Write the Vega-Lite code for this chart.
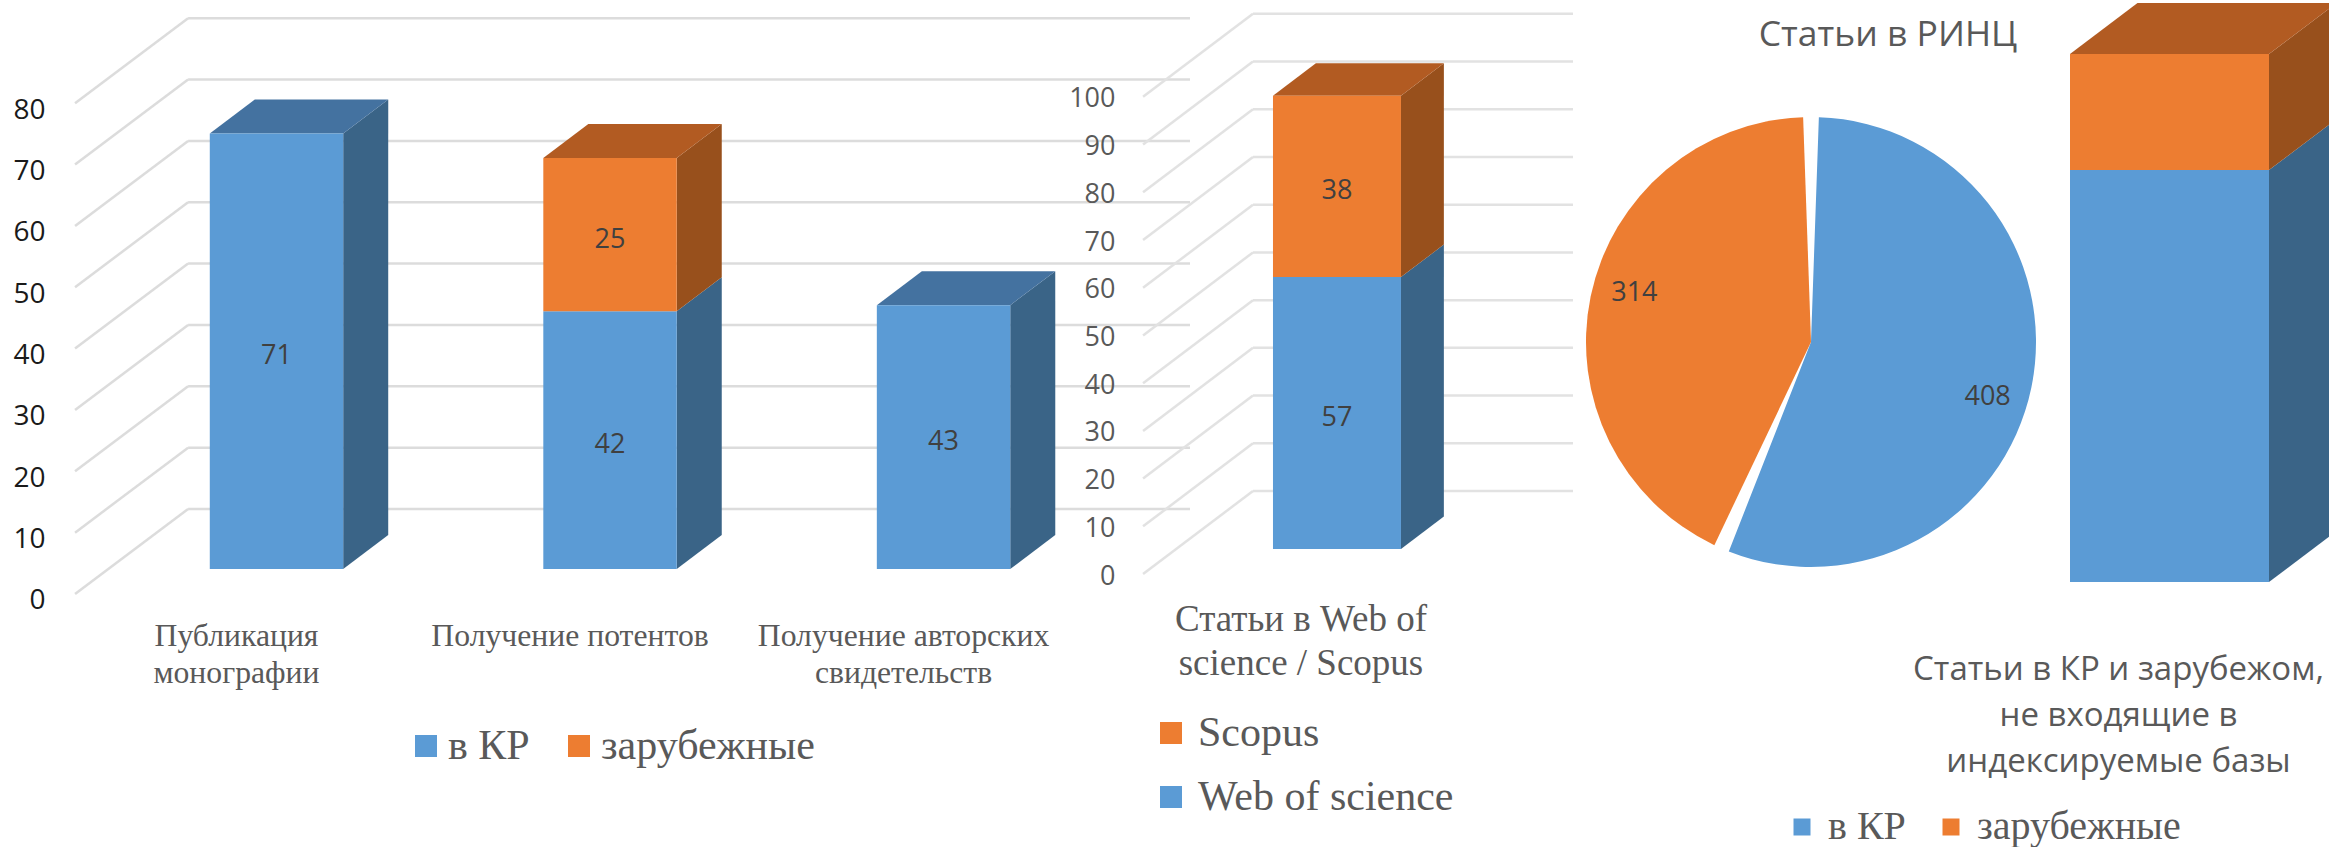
{"$schema":"https://vega.github.io/schema/vega-lite/v6.json","width":2329,"height":847,"autosize":{"type":"none"},"padding":0,"background":"white","config":{"view":{"stroke":null},"text":{"font":"Open Sans"}},
"datasets":{
"p1":[{"category":"Публикация\nмонографии","order":0,"series":"в КР","value":71},{"category":"Получение потентов","order":1,"series":"в КР","value":42},{"category":"Получение потентов","order":1,"series":"зарубежные","value":25},{"category":"Получение авторских\nсвидетельств","order":2,"series":"в КР","value":43}],
"p2":[{"category":"Статьи в Web of\nscience / Scopus","order":0,"series":"Web of science","value":57},{"category":"Статьи в Web of\nscience / Scopus","order":0,"series":"Scopus","value":38}],
"p3":[{"category":"Статьи в КР  и зарубежом,\nне входящие в\nиндексируемые базы","order":0,"series":"в КР","value":103},{"category":"Статьи в КР  и зарубежом,\nне входящие в\nиндексируемые базы","order":0,"series":"зарубежные","value":29}],
"pie":[{"series":"в КР","value":408},{"series":"зарубежные","value":314}],
"t1":[{"tick":0},{"tick":10},{"tick":20},{"tick":30},{"tick":40},{"tick":50},{"tick":60},{"tick":70},{"tick":80}],
"t2":[{"tick":0},{"tick":10},{"tick":20},{"tick":30},{"tick":40},{"tick":50},{"tick":60},{"tick":70},{"tick":80},{"tick":90},{"tick":100}]
},
"resolve":{"scale":{"x":"independent","y":"independent","color":"independent"},"axis":{"x":"independent","y":"independent"},"legend":{"color":"independent"}},
"layer":[
{"data":{"name":"p1"},"resolve":{"axis":{"y":"independent","x":"independent"}},"transform":[{"stack":"value","groupby":["category"],"sort":[{"field":"series","order":"ascending"}],"as":["start","end"]},{"calculate":"datum.start+4.07","as":"yb0"},{"calculate":"datum.end+4.07","as":"yb1"},{"calculate":"(datum.yb0+datum.yb1)/2","as":"ymid"},{"calculate":"datum.order-0.2","as":"x0"},{"calculate":"datum.order+0.2","as":"x1"},{"joinaggregate":[{"op":"max","field":"end","as":"maxEnd"}],"groupby":["category"]}],
"layer":[
{"data":{"name":"t1"},"transform":[{"calculate":"datum.tick+13.85","as":"back"}],"mark":{"type":"rule","stroke":"#dcdcdc","strokeWidth":2.5},"encoding":{"x":{"datum":-0.604,"type":"quantitative","axis":null,"scale":{"domain":[-0.829,6.154],"nice":false,"zero":false}},"x2":{"datum":-0.265},"y":{"field":"tick","type":"quantitative","scale":{"domain":[-41.24,96.82],"nice":false,"zero":false},"axis":{"orient":"left","offset":-52,"values":[0,10,20,30,40,50,60,70,80],"domain":false,"ticks":false,"grid":false,"title":null,"labelPadding":7,"labelFontSize":28,"labelFont":"Open Sans","labelColor":"#1a1a1a","labelOffset":7,"zindex":1}},"y2":{"field":"back"}}},
{"data":{"name":"t1"},"transform":[{"calculate":"datum.tick+13.85","as":"back"}],"mark":{"type":"rule","stroke":"#dcdcdc","strokeWidth":2.5},"encoding":{"x":{"datum":-0.265,"type":"quantitative","axis":null,"scale":{"domain":[-0.829,6.154],"nice":false,"zero":false}},"x2":{"datum":2.739},"y":{"field":"back","type":"quantitative","axis":null,"scale":{"domain":[-41.24,96.82],"nice":false,"zero":false}}}},
{"transform":[{"calculate":"[0,1]","as":"d"},{"flatten":["d"]},{"calculate":"datum.x1+datum.d*0.135","as":"sx"},{"calculate":"datum.yb0+datum.d*5.54","as":"lo"},{"calculate":"datum.yb1+datum.d*5.54","as":"hi"}],"mark":{"type":"area","orient":"vertical"},"encoding":{"x":{"field":"sx","type":"quantitative","axis":null,"scale":{"domain":[-0.829,6.154],"nice":false,"zero":false}},"y":{"field":"lo","type":"quantitative","axis":null,"scale":{"domain":[-41.24,96.82],"nice":false,"zero":false}},"y2":{"field":"hi"},"detail":[{"field":"order"},{"field":"series"}],"color":{"condition":{"test":"datum.series==='зарубежные'","value":"#98501c"},"value":"#3a6487"}}},
{"transform":[{"filter":"datum.end===datum.maxEnd"},{"calculate":"[0,1]","as":"d"},{"flatten":["d"]},{"calculate":"datum.x0+datum.d*0.135","as":"tx0"},{"calculate":"datum.x1+datum.d*0.135","as":"tx1"},{"calculate":"datum.yb1+datum.d*5.54","as":"ty"}],"mark":{"type":"area","orient":"horizontal"},"encoding":{"y":{"field":"ty","type":"quantitative","axis":null,"scale":{"domain":[-41.24,96.82],"nice":false,"zero":false}},"x":{"field":"tx0","type":"quantitative","axis":null,"scale":{"domain":[-0.829,6.154],"nice":false,"zero":false}},"x2":{"field":"tx1"},"detail":[{"field":"order"}],"color":{"condition":{"test":"datum.series==='зарубежные'","value":"#b25b22"},"value":"#4472a0"}}},
{"mark":{"type":"rect"},"encoding":{"x":{"field":"x0","type":"quantitative","axis":null,"scale":{"domain":[-0.829,6.154],"nice":false,"zero":false}},"x2":{"field":"x1"},"y":{"field":"yb0","type":"quantitative","axis":null,"scale":{"domain":[-41.24,96.82],"nice":false,"zero":false}},"y2":{"field":"yb1"},"color":{"field":"series","type":"nominal","scale":{"domain":["в КР","зарубежные"],"range":["#5b9bd5","#ed7d31"]},"legend":{"orient":"none","legendX":405,"legendY":725,"direction":"horizontal","columns":2,"title":null,"padding":0,"symbolType":"square","symbolSize":484,"symbolStrokeWidth":0,"labelFont":"Liberation Serif","labelFontSize":42,"labelLimit":500,"labelColor":"#595959","columnPadding":28,"labelOffset":1}}}},
{"mark":{"type":"text","fontSize":27,"font":"Open Sans","color":"#404040","dy":5},"encoding":{"x":{"field":"order","type":"quantitative","axis":null,"scale":{"domain":[-0.829,6.154],"nice":false,"zero":false}},"y":{"field":"ymid","type":"quantitative","axis":null,"scale":{"domain":[-41.24,96.82],"nice":false,"zero":false}},"text":{"field":"value"}}},
{"transform":[{"filter":"datum.series==='в КР'"}],"mark":{"type":"text","fontSize":31.7,"font":"Liberation Serif","color":"#595959","baseline":"top","lineBreak":"\n","lineHeight":37,"dx":-40},"encoding":{"x":{"field":"order","type":"quantitative","axis":null,"scale":{"domain":[-0.829,6.154],"nice":false,"zero":false}},"y":{"datum":-4.4,"type":"quantitative","axis":null,"scale":{"domain":[-41.24,96.82],"nice":false,"zero":false}},"text":{"field":"category"}}}
]},
{"data":{"name":"p2"},"resolve":{"axis":{"y":"independent","x":"independent"}},"transform":[{"stack":"value","groupby":["category"],"sort":[{"field":"series","order":"descending"}],"as":["start","end"]},{"calculate":"datum.start+5.24","as":"yb0"},{"calculate":"datum.end+5.24","as":"yb1"},{"calculate":"(datum.yb0+datum.yb1)/2","as":"ymid"},{"calculate":"datum.order-0.2","as":"x0"},{"calculate":"datum.order+0.2","as":"x1"},{"joinaggregate":[{"op":"max","field":"end","as":"maxEnd"}],"groupby":["category"]}],
"layer":[
{"data":{"name":"t2"},"transform":[{"calculate":"datum.tick+17.4","as":"back"}],"mark":{"type":"rule","stroke":"#e2e2e2","strokeWidth":2.5},"encoding":{"x":{"datum":-0.606,"type":"quantitative","axis":null,"scale":{"domain":[-4.178,3.1],"nice":false,"zero":false}},"x2":{"datum":-0.2625},"y":{"field":"tick","type":"quantitative","scale":{"domain":[-57.2,120.3],"nice":false,"zero":false},"axis":{"orient":"left","offset":-1122,"values":[0,10,20,30,40,50,60,70,80,90,100],"domain":false,"ticks":false,"grid":false,"title":null,"labelPadding":7,"labelFontSize":27,"labelFont":"Open Sans","labelColor":"#595959","labelOffset":2,"zindex":1}},"y2":{"field":"back"}}},
{"data":{"name":"t2"},"transform":[{"calculate":"datum.tick+17.4","as":"back"}],"mark":{"type":"rule","stroke":"#e2e2e2","strokeWidth":2.5},"encoding":{"x":{"datum":-0.2625,"type":"quantitative","axis":null,"scale":{"domain":[-4.178,3.1],"nice":false,"zero":false}},"x2":{"datum":0.7375},"y":{"field":"back","type":"quantitative","axis":null,"scale":{"domain":[-57.2,120.3],"nice":false,"zero":false}}}},
{"transform":[{"calculate":"[0,1]","as":"d"},{"flatten":["d"]},{"calculate":"datum.x1+datum.d*0.134","as":"sx"},{"calculate":"datum.yb0+datum.d*6.8","as":"lo"},{"calculate":"datum.yb1+datum.d*6.8","as":"hi"}],"mark":{"type":"area","orient":"vertical"},"encoding":{"x":{"field":"sx","type":"quantitative","axis":null,"scale":{"domain":[-4.178,3.1],"nice":false,"zero":false}},"y":{"field":"lo","type":"quantitative","axis":null,"scale":{"domain":[-57.2,120.3],"nice":false,"zero":false}},"y2":{"field":"hi"},"detail":[{"field":"series"}],"color":{"condition":{"test":"datum.series==='Scopus'","value":"#98501c"},"value":"#3a6487"}}},
{"transform":[{"filter":"datum.end===datum.maxEnd"},{"calculate":"[0,1]","as":"d"},{"flatten":["d"]},{"calculate":"datum.x0+datum.d*0.134","as":"tx0"},{"calculate":"datum.x1+datum.d*0.134","as":"tx1"},{"calculate":"datum.yb1+datum.d*6.8","as":"ty"}],"mark":{"type":"area","orient":"horizontal"},"encoding":{"y":{"field":"ty","type":"quantitative","axis":null,"scale":{"domain":[-57.2,120.3],"nice":false,"zero":false}},"x":{"field":"tx0","type":"quantitative","axis":null,"scale":{"domain":[-4.178,3.1],"nice":false,"zero":false}},"x2":{"field":"tx1"},"color":{"value":"#b25b22"}}},
{"mark":{"type":"rect"},"encoding":{"x":{"field":"x0","type":"quantitative","axis":null,"scale":{"domain":[-4.178,3.1],"nice":false,"zero":false}},"x2":{"field":"x1"},"y":{"field":"yb0","type":"quantitative","axis":null,"scale":{"domain":[-57.2,120.3],"nice":false,"zero":false}},"y2":{"field":"yb1"},"color":{"field":"series","type":"nominal","scale":{"domain":["Scopus","Web of science"],"range":["#ed7d31","#5b9bd5"]},"legend":{"orient":"none","legendX":1150,"legendY":712,"direction":"vertical","title":null,"padding":0,"symbolType":"square","symbolSize":484,"symbolStrokeWidth":0,"labelFont":"Liberation Serif","labelFontSize":42,"labelLimit":500,"labelColor":"#595959","rowPadding":22,"labelOffset":6}}}},
{"mark":{"type":"text","fontSize":27,"font":"Open Sans","color":"#404040","dy":5},"encoding":{"x":{"field":"order","type":"quantitative","axis":null,"scale":{"domain":[-4.178,3.1],"nice":false,"zero":false}},"y":{"field":"ymid","type":"quantitative","axis":null,"scale":{"domain":[-57.2,120.3],"nice":false,"zero":false}},"text":{"field":"value"}}},
{"transform":[{"filter":"datum.series==='Scopus'"}],"mark":{"type":"text","fontSize":37,"font":"Liberation Serif","color":"#595959","baseline":"top","lineBreak":"\n","lineHeight":44,"dx":-36},"encoding":{"x":{"field":"order","type":"quantitative","axis":null,"scale":{"domain":[-4.178,3.1],"nice":false,"zero":false}},"y":{"datum":-5.8,"type":"quantitative","axis":null,"scale":{"domain":[-57.2,120.3],"nice":false,"zero":false}},"text":{"field":"category"}}}
]},
{"data":{"name":"p3"},"transform":[{"stack":"value","groupby":["category"],"sort":[{"field":"series","order":"ascending"}],"as":["start","end"]},{"calculate":"datum.order-0.199","as":"x0"},{"calculate":"datum.order+0.199","as":"x1"},{"joinaggregate":[{"op":"max","field":"end","as":"maxEnd"}],"groupby":["category"]}],
"resolve":{"scale":{"theta":"independent"}},
"layer":[
{"transform":[{"calculate":"[0,1]","as":"d"},{"flatten":["d"]},{"calculate":"datum.x1+datum.d*0.135","as":"sx"},{"calculate":"datum.start+datum.d*12.75","as":"lo"},{"calculate":"datum.end+datum.d*12.75","as":"hi"}],"mark":{"type":"area","orient":"vertical"},"encoding":{"x":{"field":"sx","type":"quantitative","axis":null,"scale":{"domain":[-4.339,0.319],"nice":false,"zero":false}},"y":{"field":"lo","type":"quantitative","axis":null,"scale":{"domain":[-66.25,145.5],"nice":false,"zero":false}},"y2":{"field":"hi"},"detail":[{"field":"series"}],"color":{"condition":{"test":"datum.series==='зарубежные'","value":"#98501c"},"value":"#3a6487"}}},
{"transform":[{"filter":"datum.end===datum.maxEnd"},{"calculate":"[0,1]","as":"d"},{"flatten":["d"]},{"calculate":"datum.x0+datum.d*0.135","as":"tx0"},{"calculate":"datum.x1+datum.d*0.135","as":"tx1"},{"calculate":"datum.end+datum.d*12.75","as":"ty"}],"mark":{"type":"area","orient":"horizontal"},"encoding":{"y":{"field":"ty","type":"quantitative","axis":null,"scale":{"domain":[-66.25,145.5],"nice":false,"zero":false}},"x":{"field":"tx0","type":"quantitative","axis":null,"scale":{"domain":[-4.339,0.319],"nice":false,"zero":false}},"x2":{"field":"tx1"},"color":{"value":"#b25b22"}}},
{"mark":{"type":"rect"},"encoding":{"x":{"field":"x0","type":"quantitative","axis":null,"scale":{"domain":[-4.339,0.319],"nice":false,"zero":false}},"x2":{"field":"x1"},"y":{"field":"start","type":"quantitative","axis":null,"scale":{"domain":[-66.25,145.5],"nice":false,"zero":false}},"y2":{"field":"end"},"color":{"field":"series","type":"nominal","scale":{"domain":["в КР","зарубежные"],"range":["#5b9bd5","#ed7d31"]},"legend":{"orient":"none","legendX":1782,"legendY":807,"direction":"horizontal","columns":2,"title":null,"padding":0,"symbolType":"square","symbolSize":289,"symbolStrokeWidth":0,"labelFont":"Liberation Serif","labelFontSize":40,"labelLimit":500,"labelColor":"#595959","columnPadding":25,"labelOffset":6}}}},
{"transform":[{"filter":"datum.series==='в КР'"}],"mark":{"type":"text","fontSize":33,"font":"Open Sans","color":"#595959","baseline":"top","lineBreak":"\n","lineHeight":46,"dx":-51},"encoding":{"x":{"field":"order","type":"quantitative","axis":null,"scale":{"domain":[-4.339,0.319],"nice":false,"zero":false}},"y":{"datum":-18,"type":"quantitative","axis":null,"scale":{"domain":[-66.25,145.5],"nice":false,"zero":false}},"text":{"field":"category"}}},
{"data":{"name":"pie"},"mark":{"type":"arc","radius":225,"padAngle":0.07},"encoding":{"x":{"datum":-0.717,"type":"quantitative","axis":null,"scale":{"domain":[-4.339,0.319],"nice":false,"zero":false}},"y":{"datum":60,"type":"quantitative","axis":null,"scale":{"domain":[-66.25,145.5],"nice":false,"zero":false}},"theta":{"field":"value","type":"quantitative","stack":true},"order":{"field":"series"},"color":{"field":"series","type":"nominal","scale":{"domain":["в КР","зарубежные"],"range":["#5b9bd5","#ed7d31"]},"legend":null}}},
{"data":{"name":"pie"},"mark":{"type":"text","radius":184,"fontSize":27,"font":"Open Sans","color":"#404040","dy":3},"encoding":{"x":{"datum":-0.717,"type":"quantitative","axis":null,"scale":{"domain":[-4.339,0.319],"nice":false,"zero":false}},"y":{"datum":60,"type":"quantitative","axis":null,"scale":{"domain":[-66.25,145.5],"nice":false,"zero":false}},"theta":{"field":"value","type":"quantitative","stack":true,"scale":{"range":[0.08,6.363]}},"order":{"field":"series"},"text":{"field":"value"}}},
{"data":{"values":[{"title":"Статьи в РИНЦ"}]},"mark":{"type":"text","fontSize":35.5,"font":"Open Sans","color":"#595959"},"encoding":{"x":{"datum":-0.563,"type":"quantitative","axis":null,"scale":{"domain":[-4.339,0.319],"nice":false,"zero":false}},"y":{"datum":136.75,"type":"quantitative","axis":null,"scale":{"domain":[-66.25,145.5],"nice":false,"zero":false}},"text":{"field":"title"}}}
]}
]}
